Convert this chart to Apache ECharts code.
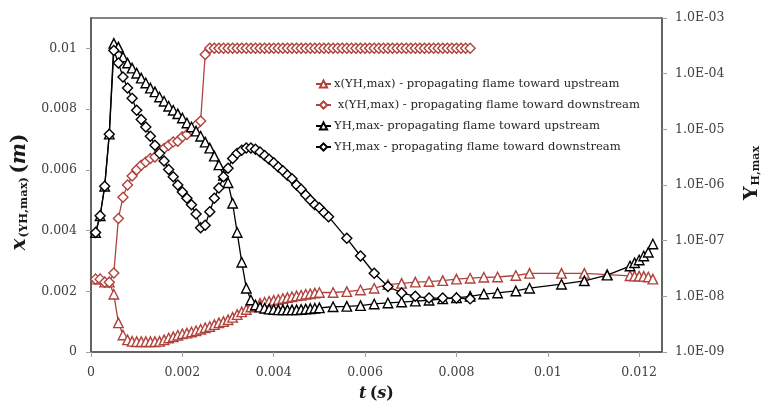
<!DOCTYPE html>
<html>
<head>
<meta charset="utf-8">
<script src="https://cdn.jsdelivr.net/npm/echarts@6/dist/echarts.min.js"></script>
<style>html,body{margin:0;padding:0;background:#fff}#c{width:766px;height:405px}</style>
</head>
<body>
<div id="c"></div>
<script>
// ---- data ----
const seriesNames = [
  'x(YH,max) - propagating flame toward upstream',
  ' x(YH,max) - propagating flame toward downstream',
  'YH,max- propagating flame toward upstream',
  'YH,max - propagating flame toward downstream'
];
// time points of the upstream case (red and black triangles)
const tUp = [0.0001,0.0002,0.0003,0.0004,0.0005,0.0006,0.0007,0.0008,0.0009,0.0010,
  0.0011,0.0012,0.0013,0.0014,0.0015,0.0016,0.0017,0.0018,0.0019,0.0020,
  0.0021,0.0022,0.0023,0.0024,0.0025,0.0026,0.0027,0.0028,0.0029,0.0030,
  0.0031,0.0032,0.0033,0.0034,0.0035,0.0036,0.0037,0.0038,0.0039,0.0040,
  0.0041,0.0042,0.0043,0.0044,0.0045,0.0046,0.0047,0.0048,0.0049,0.0050,
  0.0053,0.0056,0.0059,0.0062,0.0065,0.0068,0.0071,0.0074,0.0077,0.0080,
  0.0083,0.0086,0.0089,0.0093,0.0096,0.0103,0.0108,0.0113,0.0118,0.0119,
  0.0120,0.0121,0.0122,0.0123];
// x(YH,max) upstream [m]
const xUp = [0.0024,0.0024,0.0023,0.0023,0.0019,0.00096,0.00056,0.0004,0.00035,0.00034,
  0.00034,0.00034,0.00034,0.00034,0.00035,0.0004,0.00046,0.0005,0.00055,0.0006,
  0.00062,0.00066,0.0007,0.00075,0.0008,0.00084,0.0009,0.00096,0.001,0.00106,
  0.00114,0.00123,0.00132,0.0014,0.00148,0.00154,0.0016,0.00164,0.00167,0.0017,
  0.00173,0.00176,0.00179,0.00182,0.00185,0.00187,0.0019,0.00192,0.00194,0.00196,
  0.00196,0.00199,0.00204,0.0021,0.00222,0.00226,0.0023,0.00232,0.00235,0.0024,
  0.00243,0.00246,0.00247,0.00252,0.00259,0.00259,0.00259,0.00255,0.00251,0.0025,
  0.0025,0.00249,0.00247,0.0024];
// YH,max upstream
const yhUp = [1.4e-7,2.8e-7,9.5e-7,8.2e-6,3.5e-4,3.0e-4,2.0e-4,1.55e-4,1.26e-4,1.02e-4,
  8.3e-5,6.8e-5,5.5e-5,4.7e-5,3.8e-5,3.2e-5,2.6e-5,2.2e-5,1.9e-5,1.6e-5,
  1.3e-5,1.1e-5,9.3e-6,7.5e-6,5.9e-6,4.6e-6,3.3e-6,2.3e-6,1.5e-6,1.1e-6,
  4.7e-7,1.4e-7,4.1e-8,1.4e-8,8.6e-9,7.0e-9,6.4e-9,6.1e-9,5.9e-9,5.8e-9,
  5.7e-9,5.7e-9,5.7e-9,5.7e-9,5.7e-9,5.8e-9,5.9e-9,6.0e-9,6.1e-9,6.2e-9,
  6.5e-9,6.6e-9,6.8e-9,7.3e-9,7.6e-9,7.9e-9,8.2e-9,8.5e-9,9.0e-9,9.4e-9,
  1.0e-8,1.1e-8,1.15e-8,1.25e-8,1.4e-8,1.65e-8,1.9e-8,2.4e-8,3.5e-8,4.0e-8,
  4.5e-8,5.3e-8,6.2e-8,8.7e-8];
// time points of x(YH,max) downstream (red diamonds)
const tDownX = [0.0001,0.0002,0.0003,0.0004,0.0005,0.0006,0.0007,0.0008,0.0009,0.0010,
  0.0011,0.0012,0.0013,0.0014,0.0015,0.0016,0.0017,0.0018,0.0019,0.0020,
  0.0021,0.0022,0.0023,0.0024,0.0025,0.0026,0.0027,0.0028,0.0029,0.0030,
  0.0031,0.0032,0.0033,0.0034,0.0035,0.0036,0.0037,0.0038,0.0039,0.0040,
  0.0041,0.0042,0.0043,0.0044,0.0045,0.0046,0.0047,0.0048,0.0049,0.0050,
  0.0051,0.0052,0.0053,0.0054,0.0055,0.0056,0.0057,0.0058,0.0059,0.0060,
  0.0061,0.0062,0.0063,0.0064,0.0065,0.0066,0.0067,0.0068,0.0069,0.0070,
  0.0071,0.0072,0.0073,0.0074,0.0075,0.0076,0.0077,0.0078,0.0079,0.0080,
  0.0081,0.0082,0.0083];
const xDown = [0.0024,0.0024,0.0023,0.0023,0.0026,0.0044,0.0051,0.0055,0.0058,0.0060,
  0.00615,0.00626,0.00637,0.00642,0.00659,0.0067,0.00681,0.00692,0.00694,0.00709,
  0.00716,0.00731,0.00747,0.00761,0.0098,0.01,0.01,0.01,0.01,0.01,
  0.01,0.01,0.01,0.01,0.01,0.01,0.01,0.01,0.01,0.01,
  0.01,0.01,0.01,0.01,0.01,0.01,0.01,0.01,0.01,0.01,
  0.01,0.01,0.01,0.01,0.01,0.01,0.01,0.01,0.01,0.01,
  0.01,0.01,0.01,0.01,0.01,0.01,0.01,0.01,0.01,0.01,
  0.01,0.01,0.01,0.01,0.01,0.01,0.01,0.01,0.01,0.01,
  0.01,0.01,0.01];
// time points of YH,max downstream (black diamonds)
const tDownY = [0.0001,0.0002,0.0003,0.0004,0.0005,0.0006,0.0007,0.0008,0.0009,0.0010,
  0.0011,0.0012,0.0013,0.0014,0.0015,0.0016,0.0017,0.0018,0.0019,0.0020,
  0.0021,0.0022,0.0023,0.0024,0.0025,0.0026,0.0027,0.0028,0.0029,0.0030,
  0.0031,0.0032,0.0033,0.0034,0.0035,0.0036,0.0037,0.0038,0.0039,0.0040,
  0.0041,0.0042,0.0043,0.0044,0.0045,0.0046,0.0047,0.0048,0.0049,0.0050,
  0.0051,0.0052,0.0056,0.0059,0.0062,0.0065,0.0068,0.0071,0.0074,0.0077,
  0.0080,0.0083];
const yhDown = [1.4e-7,2.8e-7,9.5e-7,8.2e-6,2.6e-4,1.55e-4,8.7e-5,5.5e-5,3.6e-5,2.2e-5,
  1.5e-5,1.1e-5,7.5e-6,5.2e-6,3.7e-6,2.7e-6,1.9e-6,1.4e-6,1.0e-6,7.5e-7,
  5.8e-7,4.4e-7,3.0e-7,1.7e-7,1.9e-7,3.3e-7,5.8e-7,8.8e-7,1.4e-6,2.0e-6,
  3.0e-6,3.7e-6,4.2e-6,4.6e-6,4.6e-6,4.4e-6,3.9e-6,3.4e-6,2.9e-6,2.5e-6,
  2.1e-6,1.8e-6,1.5e-6,1.3e-6,1.0e-6,8.4e-7,6.6e-7,5.4e-7,4.4e-7,3.9e-7,
  3.2e-7,2.7e-7,1.1e-7,5.3e-8,2.6e-8,1.5e-8,1.15e-8,1.0e-8,9.3e-9,9.3e-9,
  9.3e-9,9.0e-9];

// ---- chart ----
const FONT = 'DejaVu Serif';
const RED = '#b0423d';
const BLACK = '#000000';
const zip = (a, b) => a.map((v, i) => [v, b[i]]);

function mk(name, t, v, axis, color, symbol) {
  return {
    type: 'line', name: name, yAxisIndex: axis, data: zip(t, v),
    symbol: symbol, symbolSize: symbol === 'diamond' ? 10 : 9.5,
    showAllSymbol: true, color: color,
    lineStyle: { color: color, width: 1.3 },
    itemStyle: { color: '#ffffff', borderColor: color, borderWidth: 1.4 },
    emphasis: { disabled: true }, silent: true
  };
}

const chart = echarts.init(document.getElementById('c'), null, { renderer: 'canvas' });
chart.setOption({
  animation: false,
  backgroundColor: '#ffffff',
  grid: { left: 91, right: 104, top: 18, bottom: 53, show: true, borderColor: '#595959', borderWidth: 1.5, outerBoundsMode: 'none', containLabel: false },
  legend: {
    orient: 'vertical', left: 310, top: 73, itemGap: 9, itemWidth: 15, itemHeight: 9,
    data: seriesNames,
    textStyle: { fontFamily: FONT, fontSize: 11.6, color: '#262626', padding: [0, 0, 0, -2] }
  },
  xAxis: {
    type: 'value', min: 0, max: 0.0125, interval: 0.002,
    axisLine: { show: true, lineStyle: { color: '#595959', width: 1.5 } },
    axisTick: { show: true, length: 5, lineStyle: { color: '#a0a0a0' } },
    splitLine: { show: false },
    axisLabel: { showMaxLabel: false, color: '#404040', fontFamily: FONT, fontSize: 12.5, margin: 14 },
    name: '{a|t} {b|(}{a|s}{b|)}', nameLocation: 'middle', nameGap: 34,
    nameTextStyle: { rich: {
      a: { fontFamily: FONT, fontSize: 16, fontWeight: 'bold', fontStyle: 'italic', color: '#1a1a1a' },
      b: { fontFamily: FONT, fontSize: 16, fontWeight: 'bold', color: '#1a1a1a' } } }
  },
  yAxis: [
    {
      type: 'value', min: 0, max: 0.011, interval: 0.002, position: 'left',
      axisLine: { show: true, lineStyle: { color: '#595959', width: 1.5 } },
      axisTick: { show: true, length: 5, lineStyle: { color: '#a0a0a0' } },
      splitLine: { show: false },
      axisLabel: { showMaxLabel: false, color: '#404040', fontFamily: FONT, fontSize: 12.5, margin: 14 },
      name: '{a|x}{s|(YH,max)} {b|(}{a|m}{c|)}', nameLocation: 'middle', nameGap: 55, nameRotate: 90,
      nameTextStyle: { rich: {
        a: { fontFamily: FONT, fontSize: 20, fontWeight: 'bold', fontStyle: 'italic', color: '#1a1a1a' },
        b: { fontFamily: FONT, fontSize: 20, fontWeight: 'bold', color: '#1a1a1a' },
        c: { fontFamily: FONT, fontSize: 20, fontWeight: 'bold', color: '#1a1a1a', padding: [0, 14, 0, 0] },
        s: { fontFamily: FONT, fontSize: 11.5, fontWeight: 'bold', color: '#1a1a1a', verticalAlign: 'bottom', padding: [9, 0, 0, 1] } } }
    },
    {
      type: 'log', logBase: 10, min: 1e-9, max: 1e-3, position: 'right',
      axisLine: { show: true, lineStyle: { color: '#595959', width: 1.5 } },
      axisTick: { show: true, length: 5, lineStyle: { color: '#a0a0a0' } },
      splitLine: { show: false }, minorTick: { show: false },
      axisLabel: { color: '#404040', fontFamily: FONT, fontSize: 12.5, margin: 13,
        formatter: function (v) { const e = Math.round(Math.log10(v)); return '1.0E-' + String(-e).padStart(2, '0'); } },
      name: '{a|Y}{s|H,max}', nameLocation: 'middle', nameGap: 81, nameRotate: 90,
      nameTextStyle: { rich: {
        a: { fontFamily: FONT, fontSize: 19, fontWeight: 'bold', color: '#1a1a1a', padding: [0, 0, 0, 24] },
        s: { fontFamily: FONT, fontSize: 11, fontWeight: 'bold', color: '#1a1a1a', verticalAlign: 'bottom', padding: [8, 0, 0, 1] } } }
    }
  ],
  series: [
    mk(seriesNames[0], tUp, xUp, 0, RED, 'triangle'),
    mk(seriesNames[1], tDownX, xDown, 0, RED, 'diamond'),
    mk(seriesNames[2], tUp, yhUp, 1, BLACK, 'triangle'),
    mk(seriesNames[3], tDownY, yhDown, 1, BLACK, 'diamond')
  ]
});
</script>
</body>
</html>
